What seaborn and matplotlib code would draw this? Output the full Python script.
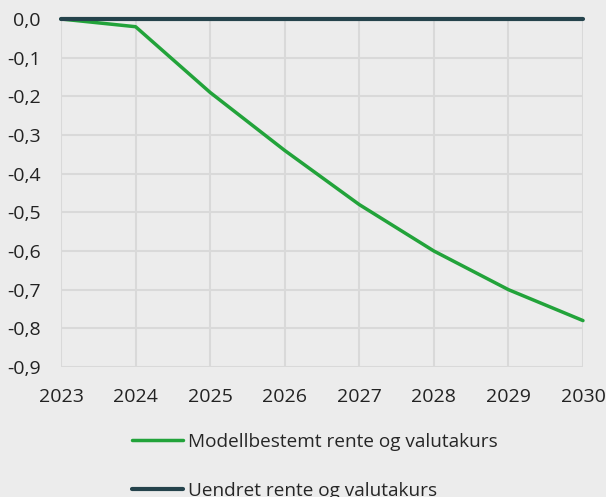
import matplotlib
matplotlib.use("Agg")
import matplotlib.pyplot as plt
import matplotlib.ticker as mticker
import pandas as pd
import seaborn as sns

# data
years = [2023, 2024, 2025, 2026, 2027, 2028, 2029, 2030]
modell = [0.0, -0.02, -0.19, -0.34, -0.48, -0.60, -0.70, -0.78]
uendret = [0.0, 0.0, 0.0, 0.0, 0.0, 0.0, 0.0, 0.0]
series_names = ["Modellbestemt rente og valutakurs", "Uendret rente og valutakurs"]
y_ticks = [0.0, -0.1, -0.2, -0.3, -0.4, -0.5, -0.6, -0.7, -0.8, -0.9]

df = pd.DataFrame({
    "year": years * 2,
    "value": modell + uendret,
    "serie": [series_names[0]] * len(years) + [series_names[1]] * len(years),
})

bg = "#ececec"
sns.set_theme(style="whitegrid", rc={
    "axes.facecolor": bg,
    "figure.facecolor": bg,
    "grid.color": "#d9d9d9",
    "grid.linewidth": 1.5,
})
plt.rcParams["font.family"] = ["Open Sans", "DejaVu Sans"]

fig, ax = plt.subplots(figsize=(6.06, 4.97), dpi=100)
fig.subplots_adjust(left=0.1007, right=0.962, top=0.9618, bottom=0.2616)

palette = {series_names[0]: "#22a33a", series_names[1]: "#25434c"}
sns.lineplot(data=df, x="year", y="value", hue="serie", hue_order=series_names,
             palette=palette, ax=ax, legend=False)
ax.lines[0].set_linewidth(2.5)
ax.lines[1].set_linewidth(3.0)

ax.set_xlim(2023, 2030)
ax.set_ylim(-0.9, 0.0)
ax.set_xticks(years)
ax.set_yticks(y_ticks)
ax.xaxis.set_major_formatter(mticker.FuncFormatter(lambda v, p: f"{int(round(v))}"))
ax.yaxis.set_major_formatter(mticker.FuncFormatter(lambda v, p: f"{v:.1f}".replace(".", ",").replace("-0,0", "0,0")))
ax.tick_params(axis="both", length=0, labelsize=14, colors="#222222")
ax.tick_params(axis="x", pad=15)
ax.tick_params(axis="y", pad=14.5)
ax.set_xlabel("")
ax.set_ylabel("")
for s in ax.spines.values():
    s.set_visible(False)
for ln in ax.lines:
    ln.set_clip_on(False)

handles = ax.lines[:2]
fig.legend(handles, series_names, loc="upper left",
           bbox_to_anchor=(132 / 606, 1 - 433 / 497),
           frameon=False, fontsize=13.7, handlelength=2.68, handletextpad=0.26,
           labelspacing=1.62, borderpad=0, borderaxespad=0)

fig.savefig("out.png", dpi=100, facecolor=bg)
